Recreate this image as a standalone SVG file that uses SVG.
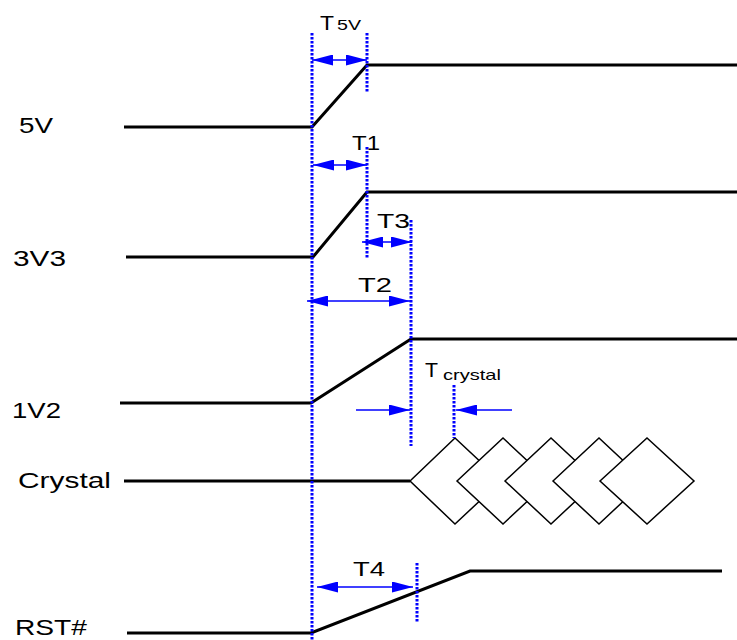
<svg xmlns="http://www.w3.org/2000/svg" width="737" height="640" viewBox="0 0 737 640">
<style>
.sig{fill:none;stroke:#000;stroke-width:3;stroke-linejoin:miter}
.dot{fill:none;stroke:#0000ff;stroke-width:3;stroke-dasharray:2.5 1.5}
.arr{fill:none;stroke:#0000ff;stroke-width:1.6}
.lbl{font-family:"Liberation Sans",Arial,sans-serif;font-size:22px;fill:#000}
.tl{font-family:"Liberation Sans",Arial,sans-serif;font-size:21px;fill:#000}
.sub{font-family:"Liberation Sans",Arial,sans-serif;font-size:15px;fill:#000}
.dia{fill:#fff;stroke:#000;stroke-width:1.5}
</style>
<defs>
<marker id="ah" markerUnits="userSpaceOnUse" markerWidth="21" markerHeight="11" refX="21" refY="5.5" orient="auto-start-reverse" viewBox="0 0 21 11">
<path d="M0,0 L21,5.5 L0,11 z" fill="#0000ff"/>
</marker>
</defs>
<rect width="737" height="640" fill="#fff"/>

<g id="sig-5v">
<text class="lbl" x="19" y="133" textLength="34" lengthAdjust="spacingAndGlyphs">5V</text>
<polyline class="sig" points="124,127 312,127 367,65 737,65"/>
</g>
<g id="sig-3v3">
<text class="lbl" x="13" y="266" textLength="53" lengthAdjust="spacingAndGlyphs">3V3</text>
<polyline class="sig" points="126,257 313,257 367,192 737,192"/>
</g>
<g id="sig-1v2">
<text class="lbl" x="12" y="418" textLength="49" lengthAdjust="spacingAndGlyphs">1V2</text>
<polyline class="sig" points="120,403 311,403 411,339 737,339"/>
</g>
<g id="sig-crystal">
<text class="lbl" x="18" y="488" textLength="93" lengthAdjust="spacingAndGlyphs">Crystal</text>
<polyline class="sig" points="124,481 410,481"/>
<polygon class="dia" points="410,481 455,438 501,481 455,524"/>
<polygon class="dia" points="457,481 503,438 549,481 503,524"/>
<polygon class="dia" points="505,481 551,438 597,481 551,524"/>
<polygon class="dia" points="553,481 599,438 645,481 599,524"/>
<polygon class="dia" points="600,481 647,438 694,481 647,524"/>
</g>
<g id="sig-rst">
<text class="lbl" x="15" y="635" textLength="72" lengthAdjust="spacingAndGlyphs">RST#</text>
<polyline class="sig" points="127,633 311,633 470,571 722,571"/>
</g>

<g id="connectors">
<line class="dot" x1="312" y1="33" x2="312" y2="640"/>
<line class="dot" x1="367" y1="33" x2="367" y2="92"/>
<line class="dot" x1="367" y1="147" x2="367" y2="258"/>
<line class="dot" x1="411" y1="220" x2="411" y2="446"/>
<line class="dot" x1="454" y1="385" x2="454" y2="438"/>
<line class="dot" x1="417" y1="563" x2="417" y2="622"/>

<line class="arr" x1="312" y1="60" x2="367" y2="60" marker-start="url(#ah)" marker-end="url(#ah)"/>
<line class="arr" x1="313" y1="165" x2="367" y2="165" marker-start="url(#ah)" marker-end="url(#ah)"/>
<line class="arr" x1="362" y1="242" x2="412" y2="242" marker-start="url(#ah)" marker-end="url(#ah)"/>
<line class="arr" x1="307" y1="301" x2="410" y2="301" marker-start="url(#ah)" marker-end="url(#ah)"/>
<line class="arr" x1="356" y1="410" x2="410" y2="410" marker-end="url(#ah)"/>
<line class="arr" x1="512" y1="410" x2="456" y2="410" marker-end="url(#ah)"/>
<line class="arr" x1="317" y1="587" x2="413" y2="587" marker-start="url(#ah)" marker-end="url(#ah)"/>
</g>

<g id="labels">
<text class="tl" x="320" y="30" textLength="14" lengthAdjust="spacingAndGlyphs">T</text>
<text class="sub" x="337" y="30" textLength="24" lengthAdjust="spacingAndGlyphs">5V</text>
<text class="tl" x="352" y="150" textLength="28" lengthAdjust="spacingAndGlyphs">T1</text>
<text class="tl" x="377" y="228" textLength="33" lengthAdjust="spacingAndGlyphs">T3</text>
<text class="tl" x="358" y="292" textLength="34" lengthAdjust="spacingAndGlyphs">T2</text>
<text class="tl" x="425" y="377" font-size="22" textLength="13" lengthAdjust="spacingAndGlyphs">T</text>
<text class="sub" x="443" y="380" font-size="16" textLength="58" lengthAdjust="spacingAndGlyphs">crystal</text>
<text class="tl" x="353" y="576" textLength="32" lengthAdjust="spacingAndGlyphs">T4</text>
</g>
</svg>
